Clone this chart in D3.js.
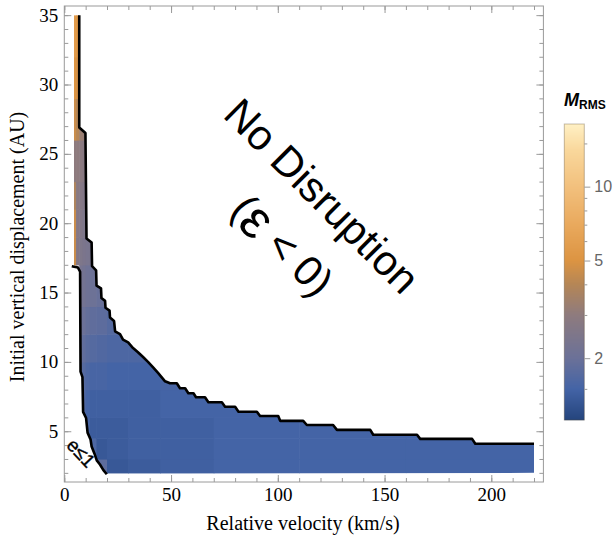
<!DOCTYPE html>
<html lang="en">
<head>
<meta charset="UTF-8">
<title>M_RMS disruption map</title>
<style>
  body { margin: 0; background: #fff; }
  svg { display: block; }
  .axis text { font-family: "Liberation Serif", "Times New Roman", serif; font-size: 19px; fill: #000; }
  .axis path { display: none; }
  .axis line { stroke: #9a9a9a; }
  .cbar text { font-family: "Liberation Sans", Arial, sans-serif; font-size: 16px; fill: #666; }
  .cbar path { display: none; }
  .cbar line { stroke: #9a9a9a; }
</style>
</head>
<body>
<svg id="chart" width="613" height="538"></svg>
<script src="https://d3js.org/d3.v7.min.js"></script>
<script>
// grid edges of the M_RMS map: velocity (km/s) and vertical displacement (AU)
const velEdges = [4.5, 5.5, 7, 8.5, 10, 12, 15, 20, 30, 45, 70, 110, 160, 220];
const dispEdges = [2, 3, 4.5, 6, 8, 10, 12, 14, 17, 19, 21, 23, 26, 29, 32, 35];

// M_RMS per cell, rows bottom -> top, one value per velocity column
const mrms = [
  [null, null, null, null, null, null, 1.8, 1.35, 1.4, 1.45, 1.5, 1.5, 1.5],
  [null, null, null, null, null, 1.6, 1.35, 1.4, 1.45, 1.45, 1.5, 1.5, 1.5],
  [null, null, null, null, 1.55, 1.4, 1.4, 1.4, 1.45, 1.45, 1.5, 1.5, 1.5],
  [null, null, null, 1.65, 1.5, 1.45, 1.45, 1.45, 1.45, 1.5, 1.5, null, null],
  [null, null, 1.8, 1.7, 1.6, 1.55, 1.55, 1.5, 1.5, 1.55, null, null, null],
  [null, null, 1.95, 1.85, 1.75, 1.7, 1.65, 1.6, 1.6, null, null, null, null],
  [null, null, 2.1, 2.0, 1.9, 1.85, 1.8, 1.7, null, null, null, null, null],
  [null, null, 2.3, 2.2, 2.1, 2.05, 1.95, null, null, null, null, null, null],
  [4.5, 2.6, 2.5, 2.4, 2.35, 2.3, null, null, null, null, null, null, null],
  [4.5, 2.7, 2.6, 2.5, 2.45, null, null, null, null, null, null, null, null],
  [3.8, 2.8, 2.7, 2.6, 2.5, null, null, null, null, null, null, null, null],
  [3.0, 3.0, 2.9, 2.8, 2.7, null, null, null, null, null, null, null, null],
  [4.5, 4.0, 3.3, 3.2, null, null, null, null, null, null, null, null, null],
  [5.0, 4.8, null, null, null, null, null, null, null, null, null, null, null],
  [5.5, 5.2, null, null, null, null, null, null, null, null, null, null, null]
];

// disruption boundary (epsilon = 0), [velocity, displacement]
const upperEdge = [
  [7.0, 35], [7.0, 26.9], [9.9, 26.5], [10.4, 18.9], [12.8, 18.6], [13.0, 16.9],
  [14.9, 16.6], [15.1, 15.5], [17.2, 15.3], [17.4, 14.6], [19.1, 14.4], [19.3, 13.9],
  [21.2, 13.7], [21.4, 13.2], [23.3, 12.95], [23.8, 12.2], [26.1, 12.0], [27.5, 11.6],
  [29.9, 11.4], [32.2, 11.0], [34.5, 10.7], [36.9, 10.35], [39.2, 10.0], [41.6, 9.6],
  [43.9, 9.2], [47.2, 8.6], [49.5, 8.46], [52.7, 8.46], [54.2, 8.1], [56.6, 8.1],
  [58.1, 7.74], [60.5, 7.74], [61.7, 7.45], [65.9, 7.45], [67.5, 7.09], [73.8, 7.09],
  [75.3, 6.77], [80.0, 6.77], [81.6, 6.41], [90.2, 6.41], [91.7, 6.1], [100.2, 6.1],
  [101.1, 5.75], [111.9, 5.75], [113.6, 5.45], [125.9, 5.45], [127.7, 5.1], [143.3, 5.1],
  [144.7, 4.75], [165.2, 4.75], [166.7, 4.45], [191.0, 4.45], [192.5, 4.1], [220, 4.1]
];

// e <= 1 boundary
const lowerEdge = [
  [3.5, 16.9], [6.4, 16.8], [7.4, 16.5], [7.6, 9.3], [8.5, 8.9], [8.8, 6.4],
  [10.2, 5.95], [10.9, 4.9], [12.3, 4.4], [12.8, 3.9], [14.1, 3.4], [15.2, 2.9],
  [16.7, 2.6], [18.3, 2.2], [19.9, 1.9]
];

const xMajor = [0, 50, 100, 150, 200];
const xMinor = d3.range(0, 221, 10);
const yMajor = [5, 10, 15, 20, 25, 30, 35];
const yMinor = d3.range(2, 36, 1);

// colour legend: M_RMS stops and the colours at them
const cbStops = [1.12, 1.5, 2, 3, 4, 5, 7, 10, 14, 18];
const cbColors = ["#24447d", "#4464a6", "#6b7198", "#8e7b7e", "#b58656", "#dc9442",
                  "#e9a95d", "#f2c07d", "#f9d79b", "#fff0c4"];
const cbMajor = [2, 5, 10];
const cbMinor = [1.5, 3, 4, 6, 7, 8, 9, 15];

const svg = d3.select('#chart');
const x = d3.scaleLinear().domain([0, 224.4]).range([64.3, 543.4]);
const y = d3.scaleLinear().domain([1.34, 35.66]).range([482, 6]);
const color = d3.scaleLog().domain(cbStops).range(cbColors).interpolate(d3.interpolateRgb).clamp(true);

// clip region between the two boundaries
const region = upperEdge.concat([[220, 2]], lowerEdge.slice().reverse(), [[4.5, 16.85], [4.5, 35]]);
svg.append('clipPath').attr('id', 'region')
  .append('path')
  .attr('d', d3.line().x(d => x(d[0])).y(d => y(d[1]))(region) + 'Z');

const cells = [];
mrms.forEach((row, i) => row.forEach((v, j) => {
  if (v !== null) cells.push({ v0: velEdges[j], v1: velEdges[j + 1], d0: dispEdges[i], d1: dispEdges[i + 1], m: v });
}));

svg.append('g').attr('clip-path', 'url(#region)')
  .selectAll('rect').data(cells).join('rect')
  .attr('x', d => x(d.v0))
  .attr('y', d => y(d.d1))
  .attr('width', d => x(d.v1) - x(d.v0) + 0.6)
  .attr('height', d => y(d.d0) - y(d.d1) + 0.6)
  .attr('fill', d => color(d.m));

const line = d3.line().x(d => x(d[0])).y(d => y(d[1]));
[upperEdge, lowerEdge].forEach(pts => {
  svg.append('path').attr('d', line(pts))
    .attr('fill', 'none').attr('stroke', '#000')
    .attr('stroke-width', 2.6).attr('stroke-linejoin', 'round');
});

// frame + ticks on all four sides
const X0 = 64.3, X1 = 543.4, Y0 = 6, Y1 = 482;
function ticks(axisFn, pos, vals, size, labels) {
  const a = axisFn.tickValues(vals).tickSizeInner(size).tickSizeOuter(0).tickPadding(6);
  if (!labels) a.tickFormat('');
  svg.append('g').attr('class', 'axis').attr('transform', pos).call(a);
}
ticks(d3.axisBottom(x), `translate(0,${Y1})`, xMinor, -4, false);
ticks(d3.axisBottom(x), `translate(0,${Y1})`, xMajor, -7, true);
ticks(d3.axisTop(x), `translate(0,${Y0})`, xMinor, -4, false);
ticks(d3.axisTop(x), `translate(0,${Y0})`, xMajor, -7, false);
ticks(d3.axisLeft(y), `translate(${X0},0)`, yMinor, -4, false);
ticks(d3.axisLeft(y), `translate(${X0},0)`, yMajor, -7, true);
ticks(d3.axisRight(y), `translate(${X1},0)`, yMinor, -4, false);
ticks(d3.axisRight(y), `translate(${X1},0)`, yMajor, -7, false);

svg.append('rect').attr('x', X0).attr('y', Y0).attr('width', X1 - X0).attr('height', Y1 - Y0)
  .attr('fill', 'none').attr('stroke', '#9a9a9a').attr('stroke-width', 1);

// axis titles
svg.append('text').attr('x', 303).attr('y', 530).attr('text-anchor', 'middle')
  .attr('font-family', '"Liberation Serif", "Times New Roman", serif').attr('font-size', 20)
  .text('Relative velocity (km/s)');
svg.append('text').attr('transform', 'translate(24,247) rotate(-90)').attr('text-anchor', 'middle')
  .attr('font-family', '"Liberation Serif", "Times New Roman", serif').attr('font-size', 20)
  .text('Initial vertical displacement (AU)');

// annotations
const sans = '"Liberation Sans", Arial, sans-serif';
svg.append('text').attr('transform', 'translate(322,196) rotate(45)')
  .attr('text-anchor', 'middle').attr('dominant-baseline', 'central')
  .attr('font-family', sans).attr('font-size', 42).text('No Disruption');
const eps = svg.append('text').attr('transform', 'translate(283,245) rotate(45)')
  .attr('text-anchor', 'middle').attr('dominant-baseline', 'central')
  .attr('font-family', sans).attr('font-size', 42);
eps.append('tspan').text('(');
eps.append('tspan').attr('font-size', 54).text('ε');
eps.append('tspan').text(' < 0)');
svg.append('text').attr('transform', 'translate(81,453) rotate(47)')
  .attr('text-anchor', 'middle').attr('dominant-baseline', 'central')
  .attr('font-family', sans).attr('font-size', 19).attr('stroke', '#000').attr('stroke-width', 0.4)
  .text('e≤1');

// colour bar
const cb = d3.scaleLog().domain([1.12, 18]).range([420, 124]);
const cbX = 564.3, cbW = 20;
const slices = d3.range(124, 420, 1);
svg.append('g').selectAll('rect').data(slices).join('rect')
  .attr('x', cbX).attr('y', d => d).attr('width', cbW).attr('height', 1.2)
  .attr('fill', d => color(cb.invert(d + 0.5)));
svg.append('rect').attr('x', cbX).attr('y', 124).attr('width', cbW).attr('height', 296)
  .attr('fill', 'none').attr('stroke', 'rgba(90,70,40,0.35)');
svg.append('g').attr('class', 'cbar').attr('transform', `translate(${cbX + cbW},0)`)
  .call(d3.axisRight(cb).tickValues(cbMinor).tickSize(3).tickFormat(''));
svg.append('g').attr('class', 'cbar').attr('transform', `translate(${cbX + cbW},0)`)
  .call(d3.axisRight(cb).tickValues(cbMajor).tickSize(6).tickPadding(4).tickFormat(d3.format('d')));

const title = svg.append('text').attr('x', 564).attr('y', 106)
  .attr('font-family', sans).attr('font-weight', 'bold');
title.append('tspan').attr('font-size', 18).attr('font-style', 'italic').text('M');
title.append('tspan').attr('font-size', 12).attr('dy', 3).text('RMS');
</script>
</body>
</html>
